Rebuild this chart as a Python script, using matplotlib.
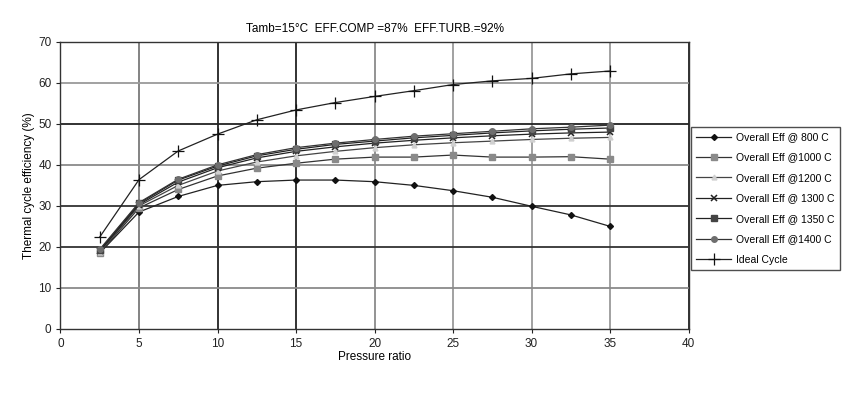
import numpy as np
import matplotlib
matplotlib.use("Agg")
import matplotlib.pyplot as plt

plt.rcParams["font.family"] = ["Liberation Sans", "DejaVu Sans"]

# ------------------------------
# Datos
# ------------------------------
pressure_ratio = [2.5, 5, 7.5, 10, 12.5, 15, 17.5, 20, 22.5, 25, 27.5, 30, 32.5, 35]

eff_800 = [18.5, 28.5, 32.3, 35.0, 35.9, 36.3, 36.3, 35.9, 35.0, 33.7, 32.1, 29.9, 27.8, 25.0]
eff_1000 = [18.5, 29.5, 34.0, 37.3, 39.2, 40.4, 41.4, 41.9, 41.9, 42.4, 41.9, 41.9, 42.0, 41.4]
eff_1200 = [18.8, 30.0, 35.0, 38.5, 40.7, 42.2, 43.3, 44.2, 44.9, 45.4, 45.8, 46.2, 46.5, 46.7]
eff_1300 = [19.0, 30.3, 35.8, 39.3, 41.7, 43.3, 44.4, 45.3, 46.0, 46.6, 47.1, 47.5, 47.8, 48.0]
eff_1350 = [19.2, 30.6, 36.3, 39.7, 42.2, 43.8, 45.0, 45.8, 46.6, 47.2, 47.8, 48.3, 48.7, 49.0]
eff_1400 = [19.4, 30.8, 36.5, 40.0, 42.5, 44.2, 45.3, 46.2, 47.0, 47.6, 48.2, 48.8, 49.2, 49.7]
eff_ideal = [22.4, 36.4, 43.4, 47.5, 51.0, 53.4, 55.2, 56.7, 58.1, 59.6, 60.5, 61.1, 62.2, 62.9]

labels = ["Overall Eff @ 800 C", "Overall Eff @1000 C", "Overall Eff @1200 C",
          "Overall Eff @ 1300 C", "Overall Eff @ 1350 C", "Overall Eff @1400 C",
          "Ideal Cycle"]
series = [eff_800, eff_1000, eff_1200, eff_1300, eff_1350, eff_1400, eff_ideal]

# estilo tipo Excel en blanco y negro
styles = [
    dict(color="#222222", marker="D", ms=3, mfc="#111111", mec="#111111"),
    dict(color="#333333", marker="s", ms=4.5, mfc="#8a8a8a", mec="#8a8a8a"),
    dict(color="#444444", marker="^", ms=3.5, mfc="#d0d0d0", mec="#d0d0d0"),
    dict(color="#222222", marker="x", ms=4.5, mfc="#222222", mec="#222222", mew=1.1),
    dict(color="#222222", marker="s", ms=4, mfc="#444444", mec="#444444"),
    dict(color="#333333", marker="o", ms=4, mfc="#6e6e6e", mec="#6e6e6e"),
    dict(color="#222222", marker="+", ms=8, mfc="#111111", mec="#111111", mew=0.9),
]

# ------------------------------
# Figura
# ------------------------------
fig = plt.figure(figsize=(8.64, 4.03), dpi=100)
ax = fig.add_axes([0.070, 0.184, 0.727, 0.712])

for y, lab, st in zip(series, labels, styles):
    ax.plot(pressure_ratio, y, lw=0.9, label=lab, zorder=3, **st)

ax.set_xlim(0, 40)
ax.set_ylim(0, 70)
ax.set_xticks(np.arange(0, 41, 5))
ax.set_yticks(np.arange(0, 71, 10))

# rejilla alternando gris oscuro / gris claro (como el escaneo)
vcolors = ["#7a7a7a", "#222222", "#222222", "#8a8a8a", "#9a9a9a", "#9a9a9a", "#9a9a9a", "#222222"]
for xv, c in zip(np.arange(5, 41, 5), vcolors):
    ax.axvline(xv, color=c, lw=1.3, zorder=1)
hcolors = ["#8a8a8a", "#333333", "#333333", "#8a8a8a", "#222222", "#9a9a9a", "#555555"]
for yv, c in zip(np.arange(10, 71, 10), hcolors):
    ax.axhline(yv, color=c, lw=1.3, zorder=1)

for s in ax.spines.values():
    s.set_color("#333333")
    s.set_linewidth(1.0)
ax.tick_params(labelsize=8.5, length=3, width=0.8, colors="#222222")

ax.set_xlabel("Pressure ratio", fontsize=8.5, labelpad=1)
ax.set_ylabel("Thermal cycle efficiency (%)", fontsize=8.5, labelpad=2)
ax.set_title("Tamb=15\u00b0C  EFF.COMP =87%  EFF.TURB.=92%", fontsize=8.5, pad=7)

leg = fig.legend(loc="upper left", bbox_to_anchor=(0.800, 0.685), fontsize=7.5,
                 frameon=True, fancybox=False, edgecolor="#222222",
                 handlelength=3.3, handletextpad=0.5, labelspacing=1.0,
                 borderpad=0.5, borderaxespad=0)
leg.get_frame().set_linewidth(1.0)

plt.savefig("out.png", dpi=100)
plt.close()
